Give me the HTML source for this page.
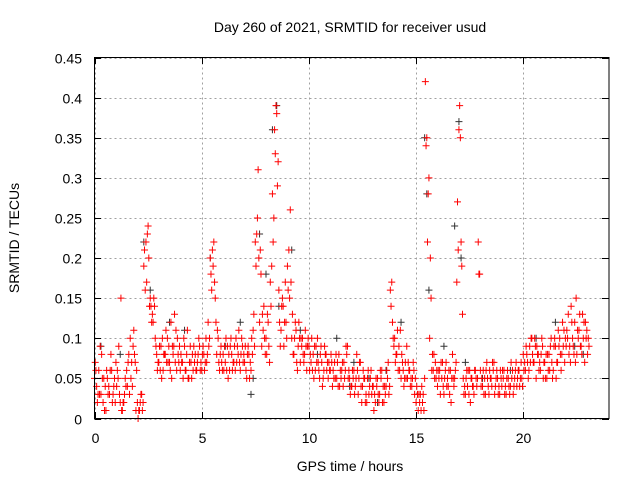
<!DOCTYPE html>
<html><head><meta charset="utf-8"><style>
body{margin:0;background:#fff;}
svg{display:block;font-family:"Liberation Sans",sans-serif;}
</style></head><body>
<svg id="chart" width="640" height="480" viewBox="0 0 640 480">
<rect width="640" height="480" fill="#fff"/>
<text x="350" y="32" font-size="14" text-anchor="middle">Day 260 of 2021, SRMTID for receiver usud</text>
<text x="350" y="471" font-size="14" text-anchor="middle">GPS time / hours</text>
<text transform="translate(19,238) rotate(-90)" font-size="14" text-anchor="middle">SRMTID / TECUs</text>
<g id="grid"></g>
<g id="blackpts"></g>
<g id="redpts"></g>
<rect x="94.5" y="57.5" width="514.5" height="361" fill="none" stroke="#000" stroke-width="1"/>
<g id="ticks"></g>
</svg>
<script>
const xTicks=[0,5,10,15,20];
const yTicks=[0,0.05,0.1,0.15,0.2,0.25,0.3,0.35,0.4,0.45];
const yTickLabels=["0","0.05","0.1","0.15","0.2","0.25","0.3","0.35","0.4","0.45"];
const t0=0, tStep=0.1;
const v1=[.05,.04,.06,.03,.02,.04,.05,.03,.06,.04,
.07,.05,.02,.01,.03,.06,.08,.05,.09,.07,
.02,.01,.03,.19,.22,.24,.15,.13,.14,.08,
.07,.09,.06,.08,.10,.07,.05,.09,.11,.08,
.06,.07,.09,.08,.05,.07,.06,.08,.07,.09,
.06,.08,.10,.12,.20,.21,.17,.08,.07,.09,
.08,.07,.09,.06,.08,.07,.10,.08,.06,.09,
.07,.05,.08,.06,.11,.22,.25,.12,.09,.14,
.10,.12,.17,.28,.36,.38,.16,.11,.14,.17,
.19,.15,.10,.08,.11,.09,.07,.10,.08,.06,
.09,.07,.08,.06,.10,.05,.07,.06,.08,.05,
.06,.04,.07,.05,.08,.05,.04,.06,.09,.05,
.04,.06,.05,.03,.07,.04,.05,.02,.03,.06,
.04,.02,.05,.03,.06,.02,.04,.07,.16,.12,
.10,.08,.09,.05,.06,.07,.05,.06,.04,.06,
.02,.01,.03,.02,.05,.35,.30,.15,.06,.07,
.04,.06,.05,.03,.07,.04,.06,.08,.05,.17,
.36,.22,.05,.03,.04,.06,.05,.03,.05,.22,
.06,.04,.05,.07,.03,.05,.06,.04,.05,.03,
.04,.06,.03,.05,.04,.06,.05,.04,.06,.07,
.08,.06,.07,.09,.10,.07,.05,.08,.06,.09,
.07,.05,.08,.10,.06,.09,.07,.10,.08,.11,
.09,.13,.07,.10,.12,.08,.11,.09,.10,.12,.08];
const v2=[.07,.02,.03,.08,.05,.01,.03,.06,.02,.05,
.04,.09,.15,.02,.05,.04,.03,.07,.11,.01,
.00,.02,.01,.21,.17,.20,.14,.12,.10,.06,
.09,.05,.08,.11,.07,.06,.09,.13,.06,.07,
.08,.05,.06,.11,.07,.05,.09,.06,.08,.06,
.08,.06,.07,.09,.18,.19,.15,.11,.06,.07,
.06,.10,.05,.09,.06,.09,.07,.11,.08,.07,
.09,.08,.05,.10,.13,.19,.31,.21,.13,.10,
.08,.09,.14,.22,.33,.29,.12,.14,.09,.12,
.16,.26,.13,.10,.07,.12,.10,.08,.11,.09,
.06,.10,.05,.09,.07,.08,.04,.09,.06,.07,
.08,.06,.05,.07,.04,.06,.07,.09,.05,.03,
.06,.03,.08,.05,.04,.06,.02,.05,.04,.03,
.01,.05,.03,.06,.02,.04,.06,.03,.14,.10,
.07,.11,.06,.08,.04,.05,.07,.04,.05,.03,
.04,.03,.01,.03,.42,.22,.10,.06,.08,.05,
.06,.03,.07,.05,.04,.06,.02,.05,.06,.27,
.39,.19,.03,.05,.06,.02,.04,.06,.04,.18,
.04,.06,.03,.05,.06,.04,.07,.05,.03,.06,
.06,.03,.05,.04,.07,.03,.06,.05,.04,.05,
.06,.09,.05,.07,.08,.10,.09,.06,.08,.05,
.05,.08,.06,.07,.09,.05,.11,.08,.12,.07,
.11,.08,.14,.09,.07,.11,.13,.08,.12,.10,.10];
const v3=[.06,.03,.09,.05,.01,.06,.04,.08,.03,.02,
.06,.03,.01,.02,.04,.07,.10,.04,.08,.06,
.01,.03,.02,.16,.23,.14,.12,.15,.09,.07,
.06,.10,.08,.07,.09,.12,.08,.07,.10,.09,
.07,.10,.06,.05,.09,.08,.07,.06,.10,.07,
.09,.07,.08,.10,.16,.22,.12,.10,.08,.06,
.09,.06,.08,.10,.07,.06,.09,.07,.10,.08,
.06,.09,.07,.08,.09,.23,.20,.18,.11,.08,
.13,.07,.19,.25,.39,.32,.09,.15,.12,.10,
.21,.17,.08,.12,.06,.10,.09,.07,.09,.10,
.08,.06,.09,.07,.06,.09,.05,.08,.07,.06,
.07,.05,.08,.04,.06,.07,.05,.08,.06,.04,
.05,.04,.06,.07,.02,.05,.03,.06,.05,.04,
.03,.04,.02,.05,.04,.03,.05,.04,.17,.09,
.08,.06,.11,.07,.05,.09,.06,.05,.07,.05,
.03,.02,.04,.01,.34,.28,.20,.08,.05,.06,
.05,.07,.04,.06,.05,.03,.05,.04,.07,.21,
.35,.13,.04,.06,.03,.05,.04,.06,.05,.18,
.05,.03,.06,.04,.05,.07,.03,.06,.04,.05,
.05,.04,.06,.03,.05,.04,.07,.06,.05,.04,
.07,.08,.06,.10,.07,.09,.08,.07,.10,.07,
.08,.06,.09,.05,.10,.07,.09,.06,.09,.10,
.10,.09,.12,.08,.15,.10,.09,.13,.07,.11,.09];
const blackT=[0.3,1.2,2.3,2.6,3.5,4.2,5.4,6.1,6.8,7.4,7.7,8.0,8.3,8.5,8.6,9.2,9.6,10.4,11.3,12.1,12.8,13.6,14.3,15.4,15.5,15.6,16.3,17.0,17.1,17.3,18.1,19.4,20.6,21.5,22.4,22.8,7.3,11.9,13.2,16.8];
const blackV=[0.09,0.08,0.22,0.16,0.12,0.11,0.20,0.09,0.12,0.05,0.23,0.18,0.36,0.39,0.14,0.21,0.11,0.08,0.10,0.07,0.05,0.06,0.12,0.35,0.28,0.16,0.09,0.37,0.20,0.07,0.05,0.06,0.10,0.12,0.09,0.08,0.03,0.04,0.02,0.24];
const NS="http://www.w3.org/2000/svg";
const xs=t=>94.5+t*(514.5/24);
const ys=v=>418.5-v*(361/0.45);
const grid=document.getElementById('grid');
const ticks=document.getElementById('ticks');
function ln(g,x1,y1,x2,y2,st,dash){const l=document.createElementNS(NS,'line');l.setAttribute('x1',x1);l.setAttribute('y1',y1);l.setAttribute('x2',x2);l.setAttribute('y2',y2);l.setAttribute('stroke',st);l.setAttribute('stroke-width',1);if(dash)l.setAttribute('stroke-dasharray',dash);g.appendChild(l);return l;}
xTicks.forEach(t=>{const x=Math.round(xs(t))+0.5;
 const g=ln(grid,x,57.5,x,418.5,'#a0a0a0','2,3');
 
 
 ln(ticks,x,418.5,x,412,'#000');ln(ticks,x,57.5,x,64,'#000');
 const tx=document.createElementNS(NS,'text');tx.setAttribute('x',x);tx.setAttribute('y',443);tx.setAttribute('font-size','14');tx.setAttribute('text-anchor','middle');tx.textContent=t;
 
 
 ticks.appendChild(tx);});
yTicks.forEach((v,i)=>{const y=Math.round(ys(v))+0.5;
 const g=ln(grid,94.5,y,609,y,'#a0a0a0','2,3');
 
 
 ln(ticks,94.5,y,101,y,'#000');ln(ticks,609,y,602,y,'#000');
 const tx=document.createElementNS(NS,'text');tx.setAttribute('x',82);tx.setAttribute('y',y+5);tx.setAttribute('font-size','14');tx.setAttribute('text-anchor','end');tx.textContent=yTickLabels[i];
 
 
 ticks.appendChild(tx);});
function plus(g,t,v,col){const x=xs(t),y=ys(v);const p=document.createElementNS(NS,'path');
 p.setAttribute('d',`M${x-3.5} ${y}H${x+3.5}M${x} ${y-3.5}V${y+3.5}`);p.setAttribute('stroke',col);p.setAttribute('stroke-width','1');p.setAttribute('fill','none');
 
 
 g.appendChild(p);}
const bg=document.getElementById('blackpts');
blackT.forEach((t,i)=>plus(bg,t,blackV[i],'#333'));
const rg=document.getElementById('redpts');
[v1,v2,v3].forEach((arr,k)=>arr.forEach((v,i)=>plus(rg,t0+i*tStep+k*0.033,v,'#ff0000')));
</script>
</body></html>
